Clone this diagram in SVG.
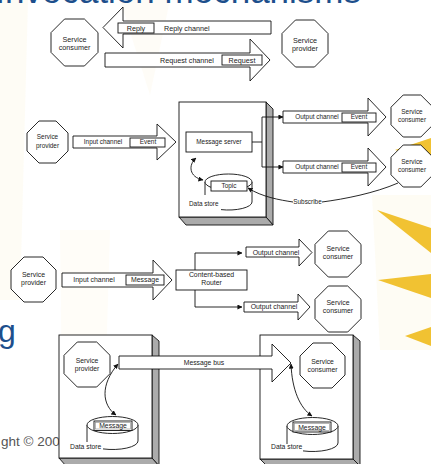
<svg xmlns="http://www.w3.org/2000/svg" width="431" height="464" viewBox="0 0 431 464">
  <defs>
    <style>
      .ln { fill: none; stroke: #111; stroke-width: 0.9; }
      .shape { fill: #fff; stroke: #111; stroke-width: 0.9; }
      .side { fill: #ababab; stroke: #111; stroke-width: 0.9; }
      .t { font-family: "Liberation Sans", Arial, sans-serif; fill: #222; text-anchor: middle; }
      .s1 { font-size: 7.2px; }
      .s2 { font-size: 6.4px; }
      .s3 { font-size: 6.9px; }
      .s4 { font-size: 6.8px; }
      .start { text-anchor: start; }
      .ray { fill: #f1c232; }
      .haze { fill: #fbeec6; }
      .slide { font-family: "Liberation Sans", Arial, sans-serif; }
    </style>
    <marker id="ah" viewBox="0 0 6 6" refX="5.5" refY="3" markerWidth="5" markerHeight="5" orient="auto-start-reverse" markerUnits="userSpaceOnUse">
      <path d="M0,0 L6,3 L0,6 Z" fill="#111"/>
    </marker>
  </defs>

  <!-- slide background -->
  <rect width="431" height="464" fill="#fff"/>
  <g id="backdrop">
    <path class="haze" opacity="0.18" d="M0,0 H28 L20,300 H0 Z"/>
    <path class="haze" opacity="0.15" d="M120,0 L170,0 L150,95 Z"/>
    <path class="haze" opacity="0.12" d="M60,230 L110,230 L105,400 L62,400 Z"/>
    <path class="haze" opacity="0.2" d="M372,195 H431 V350 H380 Z"/>
    <path class="ray" d="M395,150 L431,138 L431,160 Z"/>
    <path class="ray" d="M377,210 L431,228 L431,253 Z"/>
    <path class="ray" d="M378,280 L431,274 L431,298 Z"/>
    <path class="ray" d="M405,336 L431,327 L431,346 Z"/>
    <text class="slide" x="361" y="2.8" font-size="35" fill="#1d4f8c" text-anchor="end">Invocation mechanisms</text>
    <text class="slide" x="-2" y="341.6" font-size="32" fill="#1d4f8c">g</text>
    <text class="slide" x="1" y="446" font-size="13.5" fill="#555">ght © 200</text>
  </g>

  <!-- ===== request / reply ===== -->
  <g id="consumer1">
    <polygon class="shape" points="64.6,19 84.4,19 98,32.6 98,52.4 84.4,66 64.6,66 51,52.4 51,32.6"/>
    <text class="t s1" x="74.5" y="41.5">Service</text>
    <text class="t s1" x="74.5" y="49.5">consumer</text>
  </g>
  <g id="provider1">
    <polygon class="shape" points="295.5,20 314.5,20 328,33.5 328,53.5 314.5,67 295.5,67 282,53.5 282,33.5"/>
    <text class="t s1" x="305" y="42.5">Service</text>
    <text class="t s1" x="305" y="50.5">provider</text>
  </g>
  <g id="reply-channel">
    <path class="shape" d="M103,27.5 L123,7 L123,21 L271,21 L271,34 L123,34 L123,48 Z"/>
    <rect class="shape" x="118" y="23" width="36" height="10"/>
    <text class="t s1" x="136" y="30.5">Reply</text>
    <text class="t s1 start" x="164" y="30.5">Reply channel</text>
  </g>
  <g id="request-channel">
    <path class="shape" d="M105,53 L250,53 L250,39 L270,60 L250,81 L250,67 L105,67 Z"/>
    <rect class="shape" x="222" y="55" width="40" height="10"/>
    <text class="t s1" x="187" y="62.5">Request channel</text>
    <text class="t s1" x="242" y="62.5">Request</text>
  </g>

  <!-- ===== publish / subscribe ===== -->
  <g id="provider2">
    <polygon class="shape" points="39,121 56,121 68,133 68,151 56,163 39,163 27,151 27,133"/>
    <text class="t s2" x="47.5" y="139.2">Service</text>
    <text class="t s2" x="47.5" y="148.2">provider</text>
  </g>
  <g id="input-channel2">
    <path class="shape" d="M73,136 L157,136 L157,124 L176,142 L157,160 L157,148 L73,148 Z"/>
    <rect class="shape" x="130" y="138" width="35" height="9"/>
    <text class="t s2" x="103" y="144.2">Input channel</text>
    <text class="t s2" x="148" y="144.2">Event</text>
  </g>
  <g id="message-server-host">
    <polygon class="side" points="266,102 273,109 273,225 266,217"/>
    <polygon class="side" points="179,217 266,217 273,225 186,225"/>
    <rect class="shape" x="179" y="102" width="87" height="115"/>
  </g>
  <g id="message-server">
    <rect class="shape" x="186" y="132" width="66" height="20"/>
    <text class="t s2" x="219" y="144.2">Message server</text>
  </g>
  <g id="topic-store">
    <path class="ln" d="M205,182 V195 M252,182 V202 M221,209.6 A23.5,8 0 0 0 252,202"/>
    <ellipse class="shape" cx="228.5" cy="182" rx="23.5" ry="8"/>
    <rect class="shape" x="211" y="181" width="36" height="10"/>
    <text class="t s2" x="229" y="188.2">Topic</text>
    <text class="t s2 start" x="189" y="206.2">Data store</text>
  </g>
  <g id="output-channel2a">
    <path class="shape" d="M283,111 L368,111 L368,98 L386,117 L368,136 L368,123 L283,123 Z"/>
    <rect class="shape" x="342" y="113" width="34" height="9"/>
    <text class="t s2" x="317" y="119.2">Output channel</text>
    <text class="t s2" x="359" y="119.2">Event</text>
  </g>
  <g id="output-channel2b">
    <path class="shape" d="M283,161 L368,161 L368,148 L386,167 L368,186 L368,173 L283,173 Z"/>
    <rect class="shape" x="342" y="163" width="34" height="9"/>
    <text class="t s2" x="317" y="169.2">Output channel</text>
    <text class="t s2" x="359" y="169.2">Event</text>
  </g>
  <g id="consumer2a">
    <polygon class="shape" points="403.2,95 420.8,95 433,107.2 433,124.8 420.8,137 403.2,137 391,124.8 391,107.2"/>
    <text class="t s2" x="412" y="114.2">Service</text>
    <text class="t s2" x="412" y="122.2">consumer</text>
  </g>
  <g id="consumer2b">
    <polygon class="shape" points="403.2,145 420.8,145 433,157.2 433,174.8 420.8,187 403.2,187 391,174.8 391,157.2"/>
    <text class="t s2" x="412" y="164.2">Service</text>
    <text class="t s2" x="412" y="172.2">consumer</text>
  </g>

  <!-- ===== content-based routing ===== -->
  <g id="provider3">
    <polygon class="shape" points="24,257 43,257 56,270 56,289 43,302 24,302 11,289 11,270"/>
    <text class="t s3" x="33.5" y="277.4">Service</text>
    <text class="t s3" x="33.5" y="285.4">provider</text>
  </g>
  <g id="input-channel3">
    <path class="shape" d="M62,273 L153,273 L153,260 L172,280 L153,300 L153,287 L62,287 Z"/>
    <rect class="shape" x="126" y="275" width="38" height="10"/>
    <text class="t s3" x="94" y="282.4">Input channel</text>
    <text class="t s3" x="145" y="282.4">Message</text>
  </g>
  <g id="router">
    <rect class="shape" x="176" y="270" width="71" height="20"/>
    <text class="t s3" x="211.5" y="277.4">Content-based</text>
    <text class="t s3" x="211.5" y="285.4">Router</text>
  </g>
  <g id="output-channel3a">
    <path class="shape" d="M246,247 L299,247 L299,239 L312,252.5 L299,266 L299,257 L246,257 Z"/>
    <text class="t s3" x="276" y="254.9">Output channel</text>
  </g>
  <g id="output-channel3b">
    <path class="shape" d="M244,302 L298,302 L298,294 L310,307 L298,320 L298,312 L244,312 Z"/>
    <text class="t s3" x="274" y="309.4">Output channel</text>
  </g>
  <g id="consumer3a">
    <polygon class="shape" points="328.3,231 347.7,231 361,244.3 361,263.7 347.7,277 328.3,277 315,263.7 315,244.3"/>
    <text class="t s3" x="338" y="251.4">Service</text>
    <text class="t s3" x="338" y="259.4">consumer</text>
  </g>
  <g id="consumer3b">
    <polygon class="shape" points="328.3,286 347.7,286 361,299.3 361,318.7 347.7,332 328.3,332 315,318.7 315,299.3"/>
    <text class="t s3" x="338" y="305.4">Service</text>
    <text class="t s3" x="338" y="313.4">consumer</text>
  </g>

  <!-- ===== message bus ===== -->
  <g id="host-left">
    <polygon class="side" points="152,335 159,341 159,466 152,458"/>
    <polygon class="side" points="59,458 152,458 159,466 66,466"/>
    <rect class="shape" x="59" y="335" width="93" height="123"/>
  </g>
  <g id="host-right">
    <polygon class="side" points="353,335 360,341 360,466 353,459"/>
    <polygon class="side" points="260,459 353,459 360,466 267,466"/>
    <rect class="shape" x="260" y="335" width="93" height="124"/>
  </g>
  <g id="provider4">
    <polygon class="shape" points="77.3,342 96.7,342 110,355.3 110,373.7 96.7,387 77.3,387 64,373.7 64,355.3"/>
    <text class="t s4" x="87" y="363.4">Service</text>
    <text class="t s4" x="87" y="371.4">provider</text>
  </g>
  <g id="consumer4">
    <polygon class="shape" points="313,343 332,343 345,356 345,375 332,388 313,388 300,375 300,356"/>
    <text class="t s4" x="322.5" y="364.4">Service</text>
    <text class="t s4" x="322.5" y="372.4">consumer</text>
  </g>
  <g id="message-bus">
    <path class="shape" d="M119,356 L272,356 L272,344 L291,363 L272,382 L272,369 L119,369 Z"/>
    <text class="t s4" x="204" y="365.4">Message bus</text>
  </g>
  <g id="store-left">
    <path class="ln" d="M87,425 V442 M138,425 V441 M103,448.9 A25.5,8.5 0 0 0 138,441"/>
    <ellipse class="shape" cx="112.5" cy="425" rx="25.5" ry="8.5"/>
    <rect class="shape" x="94" y="421" width="38" height="9.5"/>
    <rect x="95.5" y="422.5" width="35" height="6.5" fill="none" stroke="#888" stroke-width="0.6"/>
    <text class="t s4" x="113" y="428.3">Message</text>
    <text class="t s4 start" x="70" y="449.4">Data store</text>
  </g>
  <g id="store-right">
    <path class="ln" d="M287,426 V444 M338,426 V443 M303,450.9 A25.5,8.5 0 0 0 338,443"/>
    <ellipse class="shape" cx="312.5" cy="426" rx="25.5" ry="8.5"/>
    <rect class="shape" x="293" y="422" width="38" height="10"/>
    <rect x="294.5" y="423.5" width="35" height="7" fill="none" stroke="#888" stroke-width="0.6"/>
    <text class="t s4" x="312" y="429.6">Message</text>
    <text class="t s4 start" x="271" y="449.4">Data store</text>
  </g>

  <!-- connectors -->
  <g id="connectors">
    <path class="ln" d="M252,142 H262 M262,117 V167"/>
    <path class="ln" d="M262,117 H283" marker-end="url(#ah)"/>
    <path class="ln" d="M262,167 H283" marker-end="url(#ah)"/>
    <path class="ln" d="M196,158 C188,165 189,177 203,180" marker-start="url(#ah)" marker-end="url(#ah)"/>
    <path class="ln" d="M293,202 C280,200 262,197 248,188" marker-end="url(#ah)"/>
    <path class="ln" d="M322,202 C345,199 375,193 398,183"/>
    <text class="t s2" x="307.5" y="204.2">Subscribe</text>
    <path class="ln" d="M195,270 V253 H242" marker-end="url(#ah)"/>
    <path class="ln" d="M195,290 V307 H242" marker-end="url(#ah)"/>
    <path class="ln" d="M118,364 C100,385 102,405 116,415" marker-start="url(#ah)" marker-end="url(#ah)"/>
    <path class="ln" d="M291,364 C292,390 300,408 312,416" marker-start="url(#ah)" marker-end="url(#ah)"/>
  </g>
</svg>
